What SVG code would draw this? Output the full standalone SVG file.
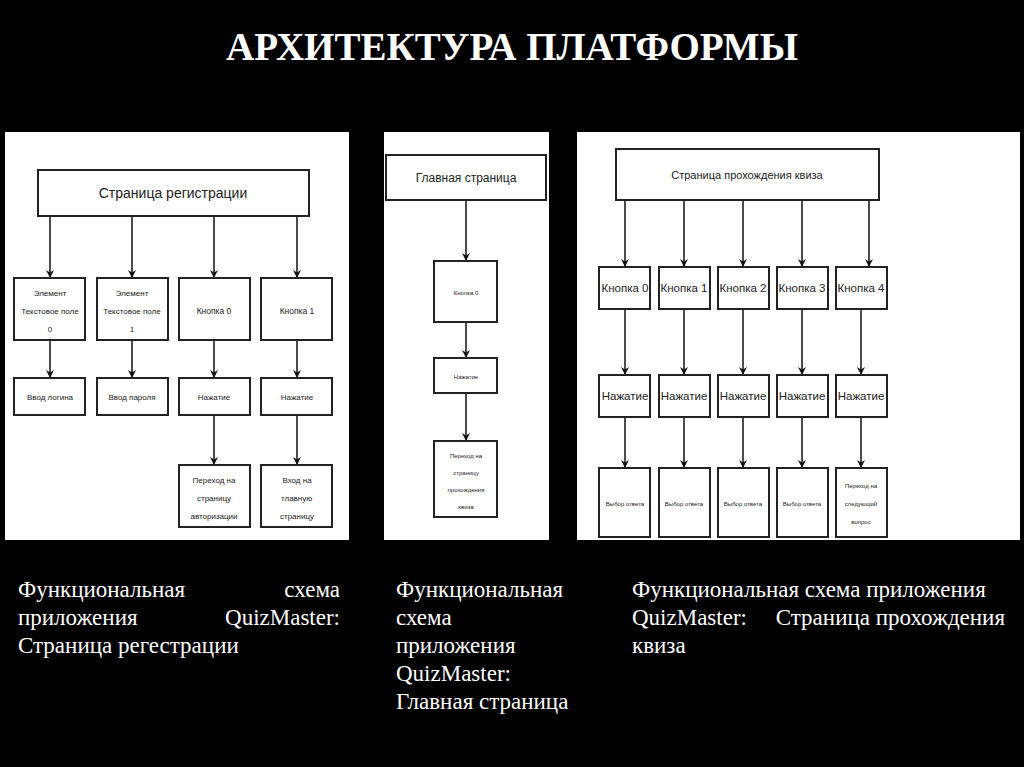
<svg xmlns="http://www.w3.org/2000/svg" width="1024" height="767" viewBox="0 0 1024 767">
<style>
.b{fill:#fff;stroke:#222;stroke-width:2}
.t{font-family:"Liberation Sans",Arial,sans-serif;fill:#222;text-anchor:middle}
.c line{stroke:#111;stroke-width:1.5;marker-end:url(#a)}
.cap{font-family:"Liberation Serif","Times New Roman",serif;font-size:23px;fill:#fff}
</style>
<defs><marker id="a" viewBox="0 0 10 10" refX="10" refY="5" markerWidth="8" markerHeight="8" markerUnits="userSpaceOnUse" orient="auto"><path d="M0,0L10,5L0,10L3,5z" fill="#111"/></marker></defs>
<rect width="1024" height="767" fill="#000"/>
<text x="512" y="60" text-anchor="middle" font-family="Liberation Serif,serif" font-weight="bold" font-size="39" fill="#fff">АРХИТЕКТУРА ПЛАТФОРМЫ</text>
<rect x="5" y="132" width="344" height="408" fill="#fff"/>
<rect x="384" y="132" width="165" height="408" fill="#fff"/>
<rect x="577" y="132" width="443" height="408" fill="#fff"/>
<g id="connectors" class="c">
<line x1="50" y1="216" x2="50" y2="278"/><line x1="132" y1="216" x2="132" y2="278"/><line x1="214" y1="216" x2="214" y2="278"/><line x1="297" y1="216" x2="297" y2="278"/>
<line x1="50" y1="340" x2="50" y2="378"/><line x1="132" y1="340" x2="132" y2="378"/><line x1="214" y1="340" x2="214" y2="378"/><line x1="297" y1="340" x2="297" y2="378"/>
<line x1="214" y1="415" x2="214" y2="465"/><line x1="297" y1="415" x2="297" y2="465"/>
<line x1="466" y1="200" x2="466" y2="261"/><line x1="466" y1="322" x2="466" y2="358"/><line x1="466" y1="393" x2="466" y2="441"/>
<line x1="625" y1="200" x2="625" y2="267"/><line x1="684" y1="200" x2="684" y2="267"/><line x1="743" y1="200" x2="743" y2="267"/><line x1="802" y1="200" x2="802" y2="267"/><line x1="869" y1="200" x2="869" y2="267"/>
<line x1="625" y1="309" x2="625" y2="375"/><line x1="684" y1="309" x2="684" y2="375"/><line x1="743" y1="309" x2="743" y2="375"/><line x1="802" y1="309" x2="802" y2="375"/><line x1="861" y1="309" x2="861" y2="375"/>
<line x1="625" y1="417" x2="625" y2="468"/><line x1="684" y1="417" x2="684" y2="468"/><line x1="743" y1="417" x2="743" y2="468"/><line x1="802" y1="417" x2="802" y2="468"/><line x1="861" y1="417" x2="861" y2="468"/>
</g>
<g id="n-reg"><rect class="b" x="38" y="170" width="271" height="46"/><text class="t" x="173" y="198" font-size="14">Страница регистрации</text></g>
<g id="n-tf0"><rect class="b" x="14" y="278" width="71" height="62"/><text class="t" font-size="8" x="50" y="296">Элемент<tspan x="50" dy="18">Текстовое поле</tspan><tspan x="50" dy="18">0</tspan></text></g>
<g id="n-tf1"><rect class="b" x="97" y="278" width="71" height="62"/><text class="t" font-size="8" x="132" y="296">Элемент<tspan x="132" dy="18">Текстовое поле</tspan><tspan x="132" dy="18">1</tspan></text></g>
<g id="n-rb0"><rect class="b" x="179" y="278" width="71" height="62"/><text class="t" font-size="8.5" x="214" y="314">Кнопка 0</text></g>
<g id="n-rb1"><rect class="b" x="261" y="278" width="71" height="62"/><text class="t" font-size="8.5" x="297" y="314">Кнопка 1</text></g>
<g id="n-login"><rect class="b" x="14" y="378" width="71" height="37"/><text class="t" font-size="8" x="50" y="400">Ввод логина</text></g>
<g id="n-pass"><rect class="b" x="97" y="378" width="71" height="37"/><text class="t" font-size="8" x="132" y="400">Ввод пароля</text></g>
<g id="n-rp0"><rect class="b" x="179" y="378" width="71" height="37"/><text class="t" font-size="8" x="214" y="400">Нажатие</text></g>
<g id="n-rp1"><rect class="b" x="261" y="378" width="71" height="37"/><text class="t" font-size="8" x="297" y="400">Нажатие</text></g>
<g id="n-auth"><rect class="b" x="179" y="465" width="71" height="62"/><text class="t" font-size="8" x="214" y="483">Переход на<tspan x="214" dy="18">страницу</tspan><tspan x="214" dy="18">авторизации</tspan></text></g>
<g id="n-main"><rect class="b" x="261" y="465" width="71" height="62"/><text class="t" font-size="8" x="297" y="483">Вход на<tspan x="297" dy="18">главную</tspan><tspan x="297" dy="18">страницу</tspan></text></g>

<g id="m-main"><rect class="b" x="386" y="155" width="160" height="45"/><text class="t" font-size="12" x="466" y="182">Главная страница</text></g>
<g id="m-b0"><rect class="b" x="434" y="261" width="63" height="61"/><text class="t" font-size="6" x="466" y="295">Кнопка 0</text></g>
<g id="m-p"><rect class="b" x="434" y="358" width="63" height="35"/><text class="t" font-size="6" x="466" y="379">Нажатие</text></g>
<g id="m-go"><rect class="b" x="434" y="441" width="63" height="76"/><text class="t" font-size="6" x="466" y="458">Переход на<tspan x="466" dy="17">страницу</tspan><tspan x="466" dy="17">прохождения</tspan><tspan x="466" dy="17">квиза</tspan></text></g>

<g id="q-title"><rect class="b" x="616" y="149" width="263" height="51"/><text class="t" font-size="11" x="747" y="179">Страница прохождения квиза</text></g>
<g id="q-b0"><rect class="b" x="599" y="267" width="51" height="42"/><text class="t" font-size="11.5" x="625" y="292">Кнопка 0</text></g>
<g id="q-b1"><rect class="b" x="659" y="267" width="51" height="42"/><text class="t" font-size="11.5" x="684" y="292">Кнопка 1</text></g>
<g id="q-b2"><rect class="b" x="718" y="267" width="51" height="42"/><text class="t" font-size="11.5" x="743" y="292">Кнопка 2</text></g>
<g id="q-b3"><rect class="b" x="777" y="267" width="51" height="42"/><text class="t" font-size="11.5" x="802" y="292">Кнопка 3</text></g>
<g id="q-b4"><rect class="b" x="836" y="267" width="51" height="42"/><text class="t" font-size="11.5" x="861" y="292">Кнопка 4</text></g>
<g id="q-p0"><rect class="b" x="599" y="375" width="51" height="42"/><text class="t" font-size="11.5" x="625" y="400">Нажатие</text></g>
<g id="q-p1"><rect class="b" x="659" y="375" width="51" height="42"/><text class="t" font-size="11.5" x="684" y="400">Нажатие</text></g>
<g id="q-p2"><rect class="b" x="718" y="375" width="51" height="42"/><text class="t" font-size="11.5" x="743" y="400">Нажатие</text></g>
<g id="q-p3"><rect class="b" x="777" y="375" width="51" height="42"/><text class="t" font-size="11.5" x="802" y="400">Нажатие</text></g>
<g id="q-p4"><rect class="b" x="836" y="375" width="51" height="42"/><text class="t" font-size="11.5" x="861" y="400">Нажатие</text></g>
<g id="q-a0"><rect class="b" x="599" y="468" width="51" height="69"/><text class="t" font-size="6" x="625" y="506">Выбор ответа</text></g>
<g id="q-a1"><rect class="b" x="659" y="468" width="51" height="69"/><text class="t" font-size="6" x="684" y="506">Выбор ответа</text></g>
<g id="q-a2"><rect class="b" x="718" y="468" width="51" height="69"/><text class="t" font-size="6" x="743" y="506">Выбор ответа</text></g>
<g id="q-a3"><rect class="b" x="777" y="468" width="51" height="69"/><text class="t" font-size="6" x="802" y="506">Выбор ответа</text></g>
<g id="q-next"><rect class="b" x="836" y="468" width="51" height="69"/><text class="t" font-size="6" x="861" y="488">Переход на<tspan x="861" dy="18">следующий</tspan><tspan x="861" dy="18">вопрос</tspan></text></g>

<text class="cap" x="18" y="597">Функциональная</text><text class="cap" x="340" y="597" text-anchor="end">схема</text>
<text class="cap" x="18" y="625">приложения</text><text class="cap" x="340" y="625" text-anchor="end">QuizMaster:</text>
<text class="cap" x="18" y="653">Страница регестрации</text>
<text class="cap" x="396" y="597">Функциональная<tspan x="396" dy="28">схема</tspan><tspan x="396" dy="28">приложения</tspan><tspan x="396" dy="28">QuizMaster:</tspan><tspan x="396" dy="28">Главная страница</tspan></text>
<text class="cap" x="632" y="597">Функциональная схема приложения</text>
<text class="cap" x="632" y="625">QuizMaster:</text><text class="cap" x="1005" y="625" text-anchor="end">Страница прохождения</text>
<text class="cap" x="632" y="653">квиза</text>
</svg>
